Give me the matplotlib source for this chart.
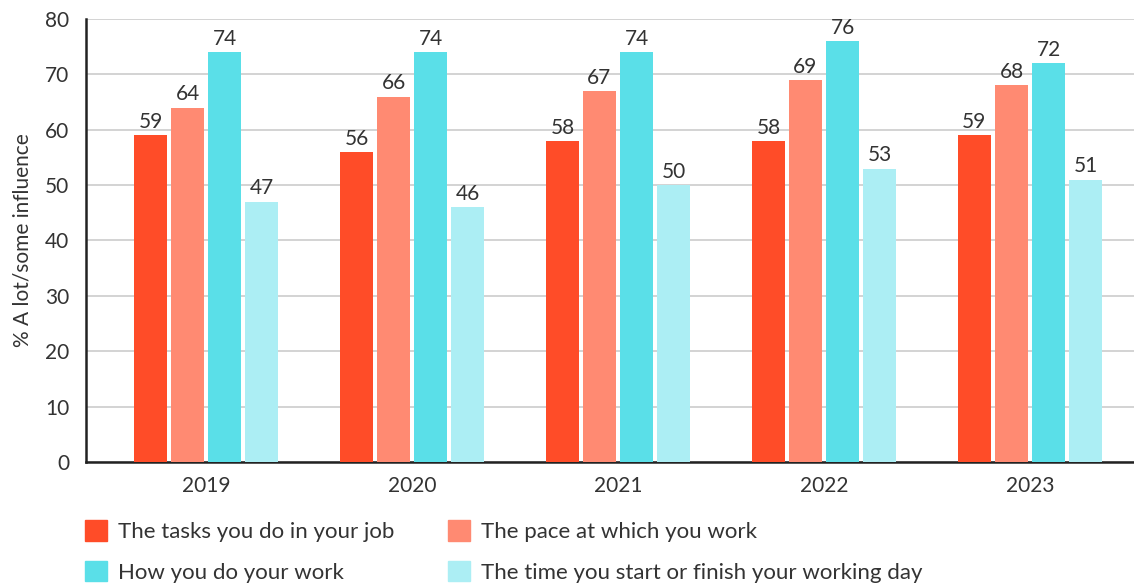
import matplotlib
matplotlib.use("Agg")
import matplotlib.pyplot as plt
from matplotlib.patches import Patch
import numpy as np

plt.rcParams['font.family'] = ['Lato', 'DejaVu Sans']

years = ['2019', '2020', '2021', '2022', '2023']
series_names = ['The tasks you do in your job', 'The pace at which you work',
                'How you do your work', 'The time you start or finish your working day']
tasks = [59, 56, 58, 58, 59]
pace = [64, 66, 67, 69, 68]
how = [74, 74, 74, 76, 72]
start_time = [47, 46, 50, 53, 51]
colors = ['#FF4C28', '#FF8A72', '#5ADFE8', '#ACEEF4']

text_col = '#333333'
W, H = 1134, 583

fig = plt.figure(figsize=(W / 100, H / 100), dpi=100)
ax = fig.add_axes([86 / W, 1 - 462 / H, 1 - 86 / W, (462 - 19) / H])

x = np.arange(len(years))
step = 0.18
width = 0.16
for i, vals in enumerate([tasks, pace, how, start_time]):
    pos = x + (i - 1.5) * step
    bars = ax.bar(pos, vals, width, color=colors[i], zorder=3)
    for b, v in zip(bars, vals):
        ax.text(b.get_x() + b.get_width() / 2, v + 0.6, str(v), ha='center', va='bottom',
                fontsize=15, color=text_col)

ax.set_xlim(-0.583, 4.505)
ax.set_ylim(0, 80)
ax.set_yticks(range(0, 81, 10))
ax.set_xticks(x)
ax.set_xticklabels(years)
ax.tick_params(axis='both', length=0, labelsize=15, colors=text_col)
ax.tick_params(axis='x', pad=10)
ax.tick_params(axis='y', pad=12)
ax.grid(axis='y', color='#cccccc', linewidth=1.2, zorder=0)
for s in ['top', 'right']:
    ax.spines[s].set_visible(False)
for s in ['left', 'bottom']:
    ax.spines[s].set_color('#222222')
    ax.spines[s].set_linewidth(1.8)
ax.set_ylabel('% A lot/some influence', fontsize=15, color=text_col, labelpad=9)

# legend: two columns placed separately
handles = [Patch(color=c) for c in colors]
for col, (k1, k2), x0 in [(0, (0, 2), 85), (1, (1, 3), 448)]:
    leg = fig.legend([handles[k1], handles[k2]], [series_names[k1], series_names[k2]],
                     loc='upper left', bbox_to_anchor=(x0 / W, 1 - 520 / H),
                     frameon=False, fontsize=16, handlelength=1.0, handleheight=1.05,
                     handletextpad=0.5, labelspacing=0.85, borderpad=0, borderaxespad=0,
                     labelcolor=text_col)

fig.savefig('out.png', dpi=100)
